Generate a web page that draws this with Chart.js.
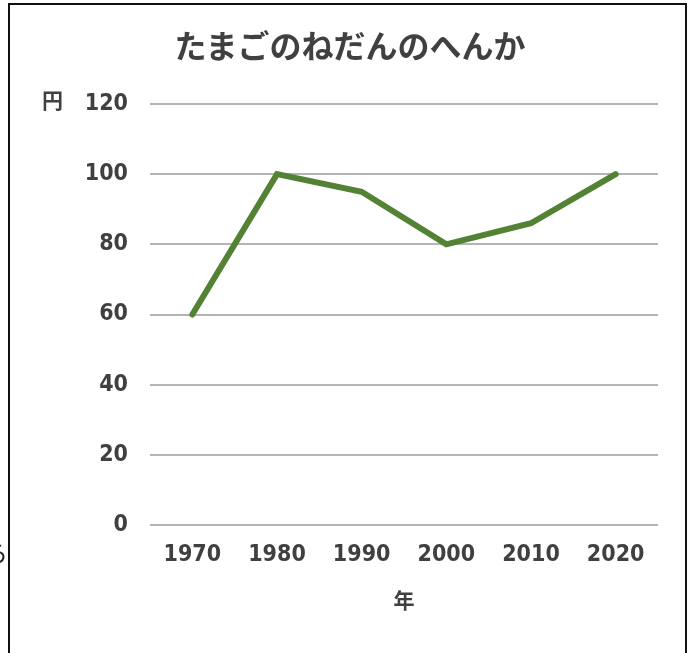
<!DOCTYPE html>
<html lang="ja">
<head>
<meta charset="utf-8">
<title>たまごのねだんのへんか</title>
<script src="https://cdn.jsdelivr.net/npm/chart.js@4.4.1/dist/chart.umd.min.js"></script>
<style>
    html, body { margin: 0; padding: 0; background: #fff; }
    #wrap { position: relative; width: 693px; height: 653px; overflow: hidden; }
    #frame {
        position: absolute; left: 8px; top: 3px; width: 679px; height: 700px;
        border: 2px solid #111; box-sizing: border-box;
    }
    #chartBox { position: absolute; left: 0; top: 0; width: 693px; height: 653px; }
    .note {
        position: absolute; color: #404040;
        font-family: "Noto Sans CJK JP", sans-serif; font-weight: 700;
    }
    #chartTitle {
        left: 0; width: 700px; top: 24px; text-align: center;
        font-size: 32px; line-height: 40px; white-space: nowrap;
    }
    #unitYen { left: 42px; top: 84px; font-size: 21px; }
    #stray { left: -16px; top: 534px; font-size: 24px; font-weight: 400; color: #222; }
</style>
</head>
<body>
<div id="wrap">
    <div id="frame"></div>
    <div id="chartBox"><canvas id="eggChart"></canvas></div>
    <span class="note" id="chartTitle">たまごのねだんのへんか</span>
    <span class="note" id="unitYen">円</span>
    <span class="note" id="stray">ら</span>
</div>
<script>
// --- Data ---
const years = ['1970', '1980', '1990', '2000', '2010', '2020'];
const eggPrice = [60, 100, 95, 80, 86, 100];
const yTicks = [0, 20, 40, 60, 80, 100, 120];

const TEXT_COLOR = '#404040';
const LINE_COLOR = '#548235';
const GRID_COLOR = '#b4b4b4';
// condensed digits, like the narrow rounded font of the original
const TICK_FONT = { family: '"DejaVu Sans", sans-serif', size: 23, weight: 'bold condensed' };

const ctx = document.getElementById('eggChart').getContext('2d');

new Chart(ctx, {
    type: 'line',
    data: {
        labels: years,
        datasets: [{
            label: 'たまごのねだん',
            data: eggPrice,
            borderColor: LINE_COLOR,
            backgroundColor: LINE_COLOR,
            borderWidth: 6,
            borderCapStyle: 'round',
            borderJoinStyle: 'miter',
            pointRadius: 0,
            tension: 0,
            fill: false
        }]
    },
    options: {
        responsive: true,
        maintainAspectRatio: false,
        animation: false,
        // title is drawn as html above, so the plot area is set by padding
        layout: { padding: { left: 10, right: 35, top: 104, bottom: 0 } },
        plugins: {
            legend: { display: false },
            tooltip: { enabled: false },
            title: { display: false }
        },
        scales: {
            x: {
                offset: true,
                grid: { display: false, drawTicks: false },
                border: { display: false },
                ticks: { color: TEXT_COLOR, font: TICK_FONT, padding: 16, maxRotation: 0 },
                title: {
                    display: true,
                    text: '年',
                    color: TEXT_COLOR,
                    font: { family: '"Noto Sans CJK JP", sans-serif', size: 21, weight: 'bold' },
                    padding: { top: 0, bottom: 40 }
                },
                afterFit: (scale) => { scale.height = 128; }
            },
            y: {
                min: 0,
                max: 120,
                afterBuildTicks: (scale) => { scale.ticks = yTicks.map(v => ({ value: v })); },
                grid: { color: GRID_COLOR, lineWidth: 2, drawTicks: false },
                border: { display: false },
                ticks: { color: TEXT_COLOR, font: TICK_FONT, padding: 22 },
                afterFit: (scale) => { scale.width = 140; }
            }
        }
    }
});
</script>
</body>
</html>
